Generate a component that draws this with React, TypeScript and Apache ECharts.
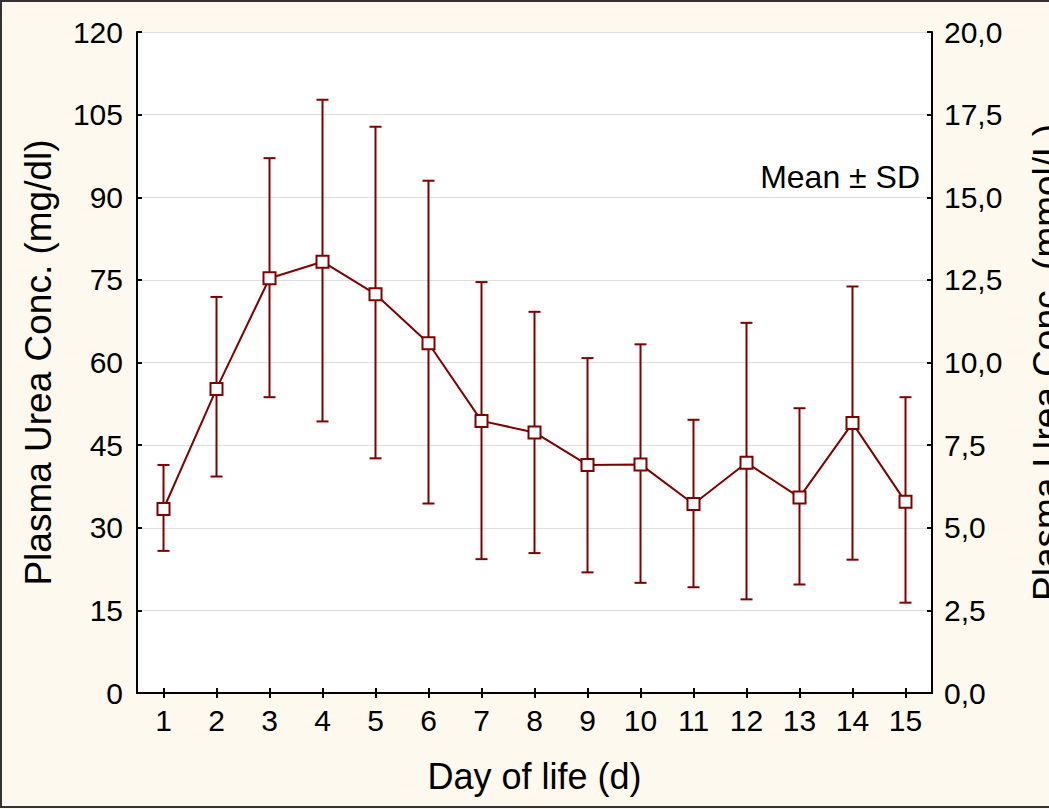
import React, { useEffect, useRef } from "react";
import * as echarts from "echarts";

const days = ["1", "2", "3", "4", "5", "6", "7", "8", "9", "10", "11", "12", "13", "14", "15"];
const means = [33.4, 55.2, 75.3, 78.3, 72.4, 63.5, 49.4, 47.3, 41.4, 41.5, 34.3, 41.8, 35.5, 49.0, 34.7];
const upper = [41.4, 71.9, 97.1, 107.7, 102.8, 93.0, 74.6, 69.2, 60.8, 63.3, 49.6, 67.2, 51.7, 73.8, 53.7];
const lower = [25.8, 39.3, 53.7, 49.3, 42.6, 34.4, 24.3, 25.4, 21.9, 20.0, 19.2, 17.0, 19.7, 24.2, 16.4];

const RED = "#800000";
const FONT = "'Liberation Sans', Arial, sans-serif";

export default function App() {
  const ref = useRef<HTMLDivElement>(null);
  useEffect(() => {
    if (!ref.current) return;
    const chart = echarts.init(ref.current, undefined, { renderer: "svg" });
    const axisLine = { show: true, lineStyle: { color: "#000", width: 2 } };
    const tick = { show: true, inside: true, length: 5, lineStyle: { color: "#000", width: 2 } };
    chart.setOption({
      animation: false,
      backgroundColor: "#fdf9ef",
      textStyle: { fontFamily: FONT },
      grid: {
        left: 137,
        right: 117,
        top: 32,
        bottom: 116,
        show: true,
        backgroundColor: "#ffffff",
        borderWidth: 0,
        containLabel: false,
        outerBoundsMode: "none",
      },
      xAxis: [
        {
          type: "category",
          data: days,
          position: "bottom",
          boundaryGap: true,
          axisLine,
          axisTick: { ...tick, alignWithLabel: true },
          axisLabel: { fontSize: 30, color: "#000", margin: 12, fontFamily: FONT },
          name: "Day of life (d)",
          nameLocation: "middle",
          nameGap: 65,
          nameTextStyle: { fontSize: 36, color: "#000", fontFamily: FONT },
          splitLine: { show: false },
        },
        {
          type: "category",
          data: days,
          position: "top",
          boundaryGap: true,
          axisLine,
          axisTick: { ...tick, alignWithLabel: true },
          axisLabel: { show: false },
          splitLine: { show: false },
        },
      ],
      yAxis: [
        {
          type: "value",
          position: "left",
          min: 0,
          max: 120,
          interval: 15,
          axisLine,
          axisTick: tick,
          axisLabel: { fontSize: 30, color: "#000", margin: 14, fontFamily: FONT },
          splitLine: { show: true, lineStyle: { color: "#dedede", width: 1 } },
          name: "Plasma Urea Conc. (mg/dl)",
          nameLocation: "middle",
          nameGap: 80,
          nameTextStyle: { fontSize: 37, color: "#000", fontFamily: FONT },
        },
        {
          type: "value",
          position: "right",
          min: 0,
          max: 20,
          interval: 2.5,
          axisLine,
          axisTick: tick,
          axisLabel: {
            fontSize: 30,
            color: "#000",
            margin: 12,
            fontFamily: FONT,
            formatter: (v: number) => v.toFixed(1).replace(".", ","),
          },
          splitLine: { show: false },
          name: "Plasma Urea Conc. (mmol/L)",
          nameLocation: "middle",
          nameGap: 96,
          nameTextStyle: { fontSize: 37, color: "#000", fontFamily: FONT },
        },
      ],
      graphic: [
        {
          type: "text",
          right: 1049 - 920,
          top: 161,
          style: { text: "Mean ± SD", fontSize: 32, fill: "#000", fontFamily: FONT },
          z: 100,
        },
        {
          type: "rect",
          shape: { x: 1, y: 1, width: 1070, height: 806 },
          style: { fill: "none", stroke: "#333", lineWidth: 2 },
          z: 100,
        },
      ],
      series: [
        {
          type: "custom",
          xAxisIndex: 0,
          yAxisIndex: 0,
          z: 2,
          encode: { x: 0, y: [1, 2] },
          data: days.map((_, i) => [i, lower[i], upper[i]]),
          renderItem: (params: any, api: any) => {
            const x = api.value(0);
            const pHi = api.coord([x, api.value(2)]);
            const pLo = api.coord([x, api.value(1)]);
            const w = 6;
            const style = { stroke: RED, lineWidth: 2 };
            return {
              type: "group",
              children: [
                { type: "line", shape: { x1: pHi[0], y1: pHi[1], x2: pLo[0], y2: pLo[1] }, style },
                { type: "line", shape: { x1: pHi[0] - w, y1: pHi[1], x2: pHi[0] + w, y2: pHi[1] }, style },
                { type: "line", shape: { x1: pLo[0] - w, y1: pLo[1], x2: pLo[0] + w, y2: pLo[1] }, style },
              ],
            };
          },
        },
        {
          type: "line",
          xAxisIndex: 0,
          yAxisIndex: 0,
          z: 3,
          data: means,
          symbol: "rect",
          symbolSize: 12,
          showAllSymbol: true,
          lineStyle: { color: RED, width: 2 },
          itemStyle: { color: "#ffffff", borderColor: RED, borderWidth: 2 },
        },
      ],
    });
    return () => chart.dispose();
  }, []);
  return (
    <div
      ref={ref}
      style={{ position: "fixed", left: 0, top: 0, width: 1049, height: 809 }}
    />
  );
}
